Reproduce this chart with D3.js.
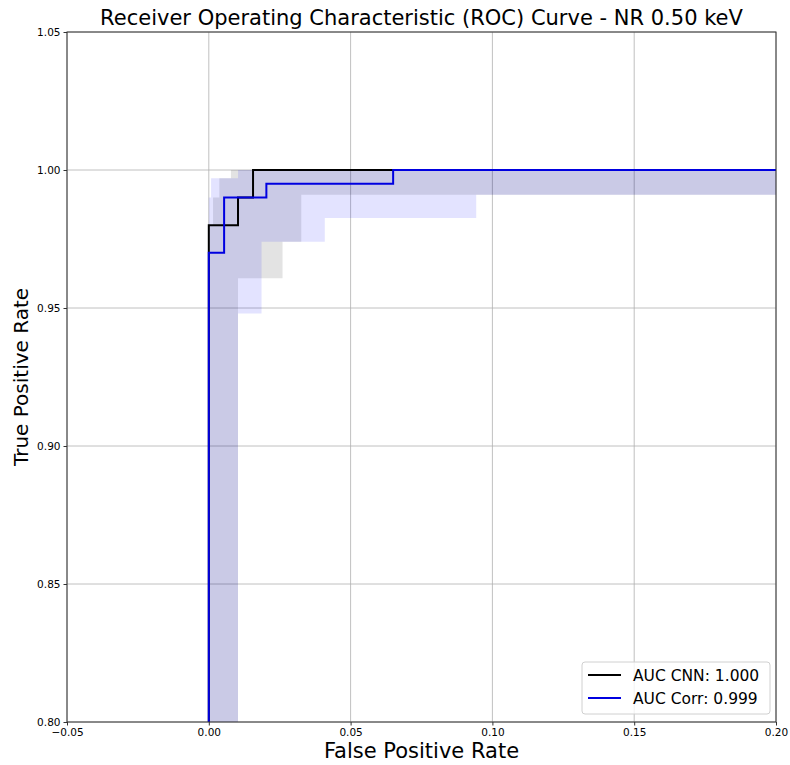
<!DOCTYPE html>
<html>
<head>
<meta charset="utf-8">
<script src="https://cdn.jsdelivr.net/npm/d3@7"></script>
<style>
  html, body { margin: 0; padding: 0; background: #fff; }
  svg { display: block; font-family: "DejaVu Sans", sans-serif; }
</style>
</head>
<body>
<svg id="chart" width="790" height="765"></svg>
<script>
// ROC curve points (false positive rate, true positive rate)
const cnnFpr = [0, 0, 0.0103, 0.0103, 0.0156, 0.0156, 1];
const cnnTpr = [0, 0.98, 0.98, 0.99, 0.99, 1, 1];
const corrFpr = [0, 0, 0.0054, 0.0054, 0.0203, 0.0203, 0.065, 0.065, 1];
const corrTpr = [0, 0.97, 0.97, 0.99, 0.99, 0.995, 0.995, 1, 1];

// Confidence bands (step functions over FPR)
const cnnBandX = [0, 0.0015, 0.0037, 0.0078, 0.0103, 0.026, 0.0326, 1];
const cnnBandLow = [0.7, 0.7, 0.7, 0.7, 0.9608, 0.974, 0.991, 0.991];
const cnnBandHigh = [0.98, 0.99, 0.997, 1.0, 1.0, 1.0, 1.0, 1.0];
const corrBandX = [0, 0.0008, 0.0103, 0.0186, 0.0409, 0.0943, 1];
const corrBandLow = [0.7, 0.7, 0.948, 0.974, 0.9826, 0.991, 0.991];
const corrBandHigh = [0.99, 0.997, 1.0, 1.0, 1.0, 1.0, 1.0];

const legendLabels = ["AUC CNN: 1.000", "AUC Corr: 0.999"];
const xTicks = [-0.05, 0, 0.05, 0.10, 0.15, 0.20];
const yTicks = [0.80, 0.85, 0.90, 0.95, 1.00, 1.05];

const margin = { left: 67, right: 14, top: 32, bottom: 43 };
const W = 790, H = 765;
const iw = W - margin.left - margin.right;
const ih = H - margin.top - margin.bottom;

const svg = d3.select("#chart");
const g = svg.append("g").attr("transform", `translate(${margin.left},${margin.top})`);

const x = d3.scaleLinear().domain([-0.05, 0.20]).range([0, iw]);
const y = d3.scaleLinear().domain([0.80, 1.05]).range([ih, 0]);

svg.append("defs").append("clipPath").attr("id", "plotclip")
  .append("rect").attr("width", iw).attr("height", ih);

// grid
g.append("g").selectAll("line").data(xTicks).join("line")
  .attr("x1", d => x(d)).attr("x2", d => x(d)).attr("y1", 0).attr("y2", ih)
  .attr("stroke", "#b0b0b0").attr("stroke-width", 0.8);
g.append("g").selectAll("line").data(yTicks).join("line")
  .attr("y1", d => y(d)).attr("y2", d => y(d)).attr("x1", 0).attr("x2", iw)
  .attr("stroke", "#b0b0b0").attr("stroke-width", 0.8);

const plot = g.append("g").attr("clip-path", "url(#plotclip)");

function band(xs, lo, hi) {
  return d3.area().curve(d3.curveStepAfter)
    .x((d, i) => x(xs[i])).y0((d, i) => y(lo[i])).y1((d, i) => y(hi[i]))(xs);
}
plot.append("path").attr("d", band(cnnBandX, cnnBandLow, cnnBandHigh))
  .attr("fill", "black").attr("fill-opacity", 0.11);
plot.append("path").attr("d", band(corrBandX, corrBandLow, corrBandHigh))
  .attr("fill", "blue").attr("fill-opacity", 0.11);

const line = (xs, ys) => d3.line().x((d, i) => x(xs[i])).y((d, i) => y(ys[i]))(xs);
plot.append("path").attr("d", line(cnnFpr, cnnTpr))
  .attr("fill", "none").attr("stroke", "black").attr("stroke-width", 2);
plot.append("path").attr("d", line(corrFpr, corrTpr))
  .attr("fill", "none").attr("stroke", "#0000e0").attr("stroke-width", 2);

// axes
const fmt = d => d3.format(".2f")(d).replace("-", "\u2212");
const xAxis = g.append("g").attr("transform", `translate(0,${ih})`)
  .call(d3.axisBottom(x).tickValues(xTicks).tickFormat(fmt).tickSizeOuter(0).tickSize(3.5).tickPadding(3));
const yAxis = g.append("g")
  .call(d3.axisLeft(y).tickValues(yTicks).tickFormat(fmt).tickSizeOuter(0).tickSize(3.5).tickPadding(3));
[xAxis, yAxis].forEach(a => {
  a.select(".domain").remove();
  a.selectAll("text").attr("font-size", 10.5).attr("fill", "#000").attr("font-family", "DejaVu Sans");
  a.selectAll("line").attr("stroke", "#333");
});

// frame
g.append("rect").attr("width", iw).attr("height", ih)
  .attr("fill", "none").attr("stroke", "#333").attr("stroke-width", 1);

// title and labels
svg.append("text").attr("x", margin.left + iw / 2).attr("y", 25)
  .attr("text-anchor", "middle").attr("font-size", 21)
  .text("Receiver Operating Characteristic (ROC) Curve - NR 0.50 keV");
svg.append("text").attr("x", margin.left + iw / 2).attr("y", 758)
  .attr("text-anchor", "middle").attr("font-size", 21).text("False Positive Rate");
svg.append("text").attr("transform", `translate(28,${margin.top + ih / 2}) rotate(-90)`)
  .attr("text-anchor", "middle").attr("font-size", 20).text("True Positive Rate");

// legend
const lg = svg.append("g").attr("transform", "translate(582,662)");
lg.append("rect").attr("width", 188).attr("height", 52).attr("rx", 3)
  .attr("fill", "#fff").attr("fill-opacity", 0.8).attr("stroke", "#d0d0d0");
const colors = ["black", "#0000e0"];
legendLabels.forEach((t, i) => {
  const yy = 13 + i * 23;
  lg.append("line").attr("x1", 6).attr("x2", 39).attr("y1", yy).attr("y2", yy)
    .attr("stroke", colors[i]).attr("stroke-width", 2);
  lg.append("text").attr("x", 51).attr("y", yy + 5.5).attr("font-size", 15.5).text(t);
});
</script>
</body>
</html>
